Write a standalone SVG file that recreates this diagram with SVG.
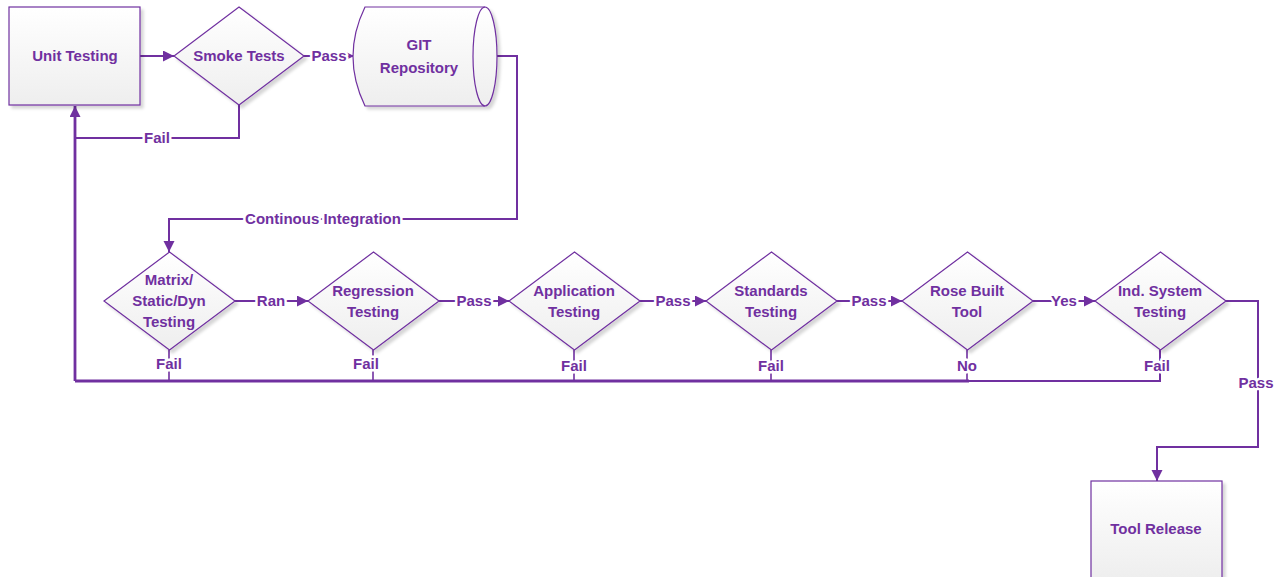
<svg xmlns="http://www.w3.org/2000/svg" width="1274" height="577" viewBox="0 0 1274 577">
  <style>
    .shape { fill: url(#fillGrad); stroke: #7030a0; stroke-width: 1.2; filter: url(#shadow); }
    .edge { fill: none; stroke: #7030a0; stroke-width: 2; }
    .heavy { stroke-width: 2.8; }
    .stub { stroke-width: 1.6; }
    .arrow { marker-end: url(#arrowhead); }
    text { font-family: "Liberation Sans", Arial, sans-serif; font-weight: bold; font-size: 15px; fill: #7030a0; text-anchor: middle; }
    .lbl { stroke: #ffffff; stroke-width: 5; paint-order: stroke; stroke-linejoin: round; }
  </style>
  <defs>
    <linearGradient id="fillGrad" x1="0" y1="0" x2="0" y2="1">
      <stop offset="0" stop-color="#ffffff"/>
      <stop offset="1" stop-color="#eeeeee"/>
    </linearGradient>
    <filter id="shadow" x="-10%" y="-10%" width="130%" height="130%">
      <feDropShadow dx="3" dy="3" stdDeviation="1.5" flood-color="#000000" flood-opacity="0.16"/>
    </filter>
    <marker id="arrowhead" markerWidth="12" markerHeight="12" refX="11" refY="5.5" orient="auto" markerUnits="userSpaceOnUse">
      <path d="M0,0 L11,5.5 L0,11 Z" fill="#7030a0"/>
    </marker>
  </defs>

  <rect width="1274" height="577" fill="#ffffff"/>

  <!-- connectors -->
  <g id="connectors">
    <path class="edge arrow" d="M140,56 H174"/>
    <path class="edge arrow" d="M304,56 H354"/>
    <path class="edge" d="M239,105 V138 H75"/>
    <path class="edge heavy arrow" d="M75,381 V106"/>
    <path class="edge arrow" d="M497,56 H517 V219 H169 V252"/>
    <path class="edge arrow" d="M235,301 H308"/>
    <path class="edge arrow" d="M439,301 H509"/>
    <path class="edge arrow" d="M640,301 H706"/>
    <path class="edge arrow" d="M837,301 H902"/>
    <path class="edge arrow" d="M1033,301 H1095"/>
    <path class="edge heavy" d="M75,381 H969"/>
    <path class="edge" d="M967,381 H1160 V350"/>
    <path class="edge stub" d="M169,350 V381 M373,350 V381 M574,350 V381 M771,350 V381 M967,350 V381"/>
    <path class="edge arrow" d="M1226,301 H1258 V447 H1157 V481"/>

    <text class="lbl" x="157" y="138" dy="0.35em">Fail</text>
    <text class="lbl" x="329" y="56" dy="0.35em">Pass</text>
    <text class="lbl" x="323" y="219" dy="0.35em">Continous Integration</text>
    <text class="lbl" x="271" y="301" dy="0.35em">Ran</text>
    <text class="lbl" x="474" y="301" dy="0.35em">Pass</text>
    <text class="lbl" x="673" y="301" dy="0.35em">Pass</text>
    <text class="lbl" x="869" y="301" dy="0.35em">Pass</text>
    <text class="lbl" x="1064" y="301" dy="0.35em">Yes</text>
    <text class="lbl" x="169" y="364" dy="0.35em">Fail</text>
    <text class="lbl" x="366" y="364" dy="0.35em">Fail</text>
    <text class="lbl" x="574" y="366" dy="0.35em">Fail</text>
    <text class="lbl" x="771" y="366" dy="0.35em">Fail</text>
    <text class="lbl" x="967" y="366" dy="0.35em">No</text>
    <text class="lbl" x="1157" y="366" dy="0.35em">Fail</text>
    <text class="lbl" x="1256" y="383" dy="0.35em">Pass</text>
  </g>

  <g id="unit-testing">
    <rect class="shape" x="9" y="7" width="131" height="98"/>
    <text x="75" y="56" dy="0.35em">Unit Testing</text>
  </g>

  <g id="smoke-tests">
    <polygon class="shape" points="239,7 304,56 239,105 174,56"/>
    <text x="239" y="56" dy="0.35em">Smoke Tests</text>
  </g>

  <g id="git-repository">
    <path class="shape" d="M365,7 H485 A12,49.5 0 0 1 485,106 H365 Q341,56.5 365,7 Z"/>
    <path d="M485,7 A12,49.5 0 0 0 485,106" fill="none" stroke="#7030a0" stroke-width="1.2"/>
    <text x="419" y="45" dy="0.35em">GIT</text>
    <text x="419" y="68" dy="0.35em">Repository</text>
  </g>

  <g id="matrix-testing">
    <polygon class="shape" points="169.5,252 235,301 169.5,350 104,301"/>
    <text x="169" y="280" dy="0.35em">Matrix/</text>
    <text x="169" y="301" dy="0.35em">Static/Dyn</text>
    <text x="169" y="322" dy="0.35em">Testing</text>
  </g>

  <g id="regression-testing">
    <polygon class="shape" points="373.5,252 439,301 373.5,350 308,301"/>
    <text x="373" y="291" dy="0.35em">Regression</text>
    <text x="373" y="312" dy="0.35em">Testing</text>
  </g>

  <g id="application-testing">
    <polygon class="shape" points="574.5,252 640,301 574.5,350 509,301"/>
    <text x="574" y="291" dy="0.35em">Application</text>
    <text x="574" y="312" dy="0.35em">Testing</text>
  </g>

  <g id="standards-testing">
    <polygon class="shape" points="771.5,252 837,301 771.5,350 706,301"/>
    <text x="771" y="291" dy="0.35em">Standards</text>
    <text x="771" y="312" dy="0.35em">Testing</text>
  </g>

  <g id="rose-built-tool">
    <polygon class="shape" points="967.5,252 1033,301 967.5,350 902,301"/>
    <text x="967" y="291" dy="0.35em">Rose Built</text>
    <text x="967" y="312" dy="0.35em">Tool</text>
  </g>

  <g id="ind-system-testing">
    <polygon class="shape" points="1160.5,252 1226,301 1160.5,350 1095,301"/>
    <text x="1160" y="291" dy="0.35em">Ind. System</text>
    <text x="1160" y="312" dy="0.35em">Testing</text>
  </g>

  <g id="tool-release">
    <rect class="shape" x="1091" y="481" width="131" height="98"/>
    <text x="1156" y="529" dy="0.35em">Tool Release</text>
  </g>
</svg>
